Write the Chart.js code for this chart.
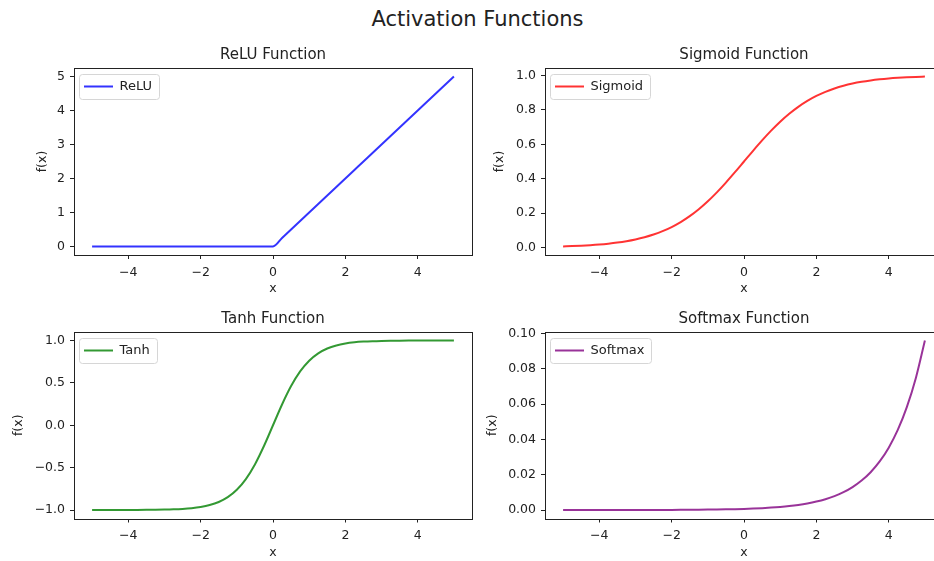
<!DOCTYPE html>
<html>
<head>
<meta charset="utf-8">
<script src="https://cdn.jsdelivr.net/npm/chart.js@4.4.0/dist/chart.umd.min.js"></script>
<style>
  html, body { margin: 0; padding: 0; background: #fff; overflow: hidden; width: 934px; height: 561px; }
  #suptitle { position: absolute; left: 0; top: 0; width: 955px; text-align: center; font: 21px "DejaVu Sans"; line-height: 38px; color: #222; }
  canvas { position: absolute; }
</style>
</head>
<body>
<div id="suptitle">Activation Functions</div>
<canvas id="relu" width="480" height="256" style="left:0;top:40px"></canvas>
<canvas id="sigmoid" width="470" height="256" style="left:480px;top:40px"></canvas>
<canvas id="tanh" width="480" height="256" style="left:0;top:304px"></canvas>
<canvas id="softmax" width="470" height="256" style="left:480px;top:304px"></canvas>
<script>
const xValues = [-5, -4.75, -4.5, -4.25, -4, -3.75, -3.5, -3.25, -3, -2.75, -2.5, -2.25, -2, -1.75, -1.5, -1.25, -1, -0.75, -0.5, -0.25, 0,
  0.25, 0.5, 0.75, 1, 1.25, 1.5, 1.75, 2, 2.25, 2.5, 2.75, 3, 3.25, 3.5, 3.75, 4, 4.25, 4.5, 4.75, 5];
const reluValues = [0, 0, 0, 0, 0, 0, 0, 0, 0, 0, 0, 0, 0, 0, 0, 0, 0, 0, 0, 0, 0,
  0.25, 0.5, 0.75, 1, 1.25, 1.5, 1.75, 2, 2.25, 2.5, 2.75, 3, 3.25, 3.5, 3.75, 4, 4.25, 4.5, 4.75, 5];
const sigmoidValues = [0.0067, 0.0086, 0.011, 0.0141, 0.018, 0.023, 0.0293, 0.0373, 0.0474, 0.0601, 0.0759, 0.0953, 0.1192, 0.148, 0.1824, 0.2227, 0.2689, 0.3208, 0.3775, 0.4378, 0.5,
  0.5622, 0.6225, 0.6792, 0.7311, 0.7773, 0.8176, 0.852, 0.8808, 0.9047, 0.9241, 0.9399, 0.9526, 0.9627, 0.9707, 0.977, 0.982, 0.9859, 0.989, 0.9914, 0.9933];
const tanhValues = [-0.9999, -0.9999, -0.9998, -0.9996, -0.9993, -0.9989, -0.9982, -0.997, -0.9951, -0.9919, -0.9866, -0.978, -0.964, -0.9414, -0.9051, -0.8483, -0.7616, -0.6351, -0.4621, -0.2449, 0,
  0.2449, 0.4621, 0.6351, 0.7616, 0.8483, 0.9051, 0.9414, 0.964, 0.978, 0.9866, 0.9919, 0.9951, 0.997, 0.9982, 0.9989, 0.9993, 0.9996, 0.9998, 0.9999, 0.9999];
const softmaxValues = [0.0000044, 0.0000056, 0.0000072, 0.0000092, 0.0000119, 0.0000152, 0.0000196, 0.0000251, 0.0000322, 0.0000414, 0.0000531,
  0.0000682, 0.0000876, 0.000113, 0.000144, 0.000186, 0.000238, 0.000306, 0.000393, 0.000504, 0.000648,
  0.000831, 0.001068, 0.001371, 0.00176, 0.00226, 0.002902, 0.003727, 0.004785, 0.006144, 0.00789,
  0.01013, 0.01301, 0.0167, 0.02144, 0.02753, 0.03535, 0.04539, 0.05829, 0.07484, 0.0961];

const xTicks = [-4, -2, 0, 2, 4];
const xTickLabels = ['\u22124', '\u22122', '0', '2', '4'];
const reluTicks = [0, 1, 2, 3, 4, 5];
const reluTickLabels = ['0', '1', '2', '3', '4', '5'];
const sigmoidTicks = [0, 0.2, 0.4, 0.6, 0.8, 1.0];
const sigmoidTickLabels = ['0.0', '0.2', '0.4', '0.6', '0.8', '1.0'];
const tanhTicks = [-1, -0.5, 0, 0.5, 1];
const tanhTickLabels = ['\u22121.0', '\u22120.5', '0.0', '0.5', '1.0'];
const softmaxTicks = [0, 0.02, 0.04, 0.06, 0.08, 0.10];
const softmaxTickLabels = ['0.00', '0.02', '0.04', '0.06', '0.08', '0.10'];

const xLimits = [-5.5, 5.5];
const reluLimits = [-0.25, 5.25];
const sigmoidLimits = [-0.043, 1.043];
const tanhLimits = [-1.1, 1.1];
const softmaxLimits = [-0.0048, 0.1009];

Chart.defaults.font.family = '"DejaVu Sans", sans-serif';
Chart.defaults.color = '#222';

// axes box on all four sides, like matplotlib spines
const frame = {
  id: 'frame',
  afterDatasetsDraw(chart) {
    const { ctx, chartArea: a } = chart;
    ctx.save();
    ctx.strokeStyle = '#222';
    ctx.lineWidth = 1;
    ctx.strokeRect(Math.round(a.left) + 0.5, Math.round(a.top) + 0.5,
      Math.round(a.right - a.left), Math.round(a.bottom - a.top));
    ctx.restore();
  }
};

// legend in the chart area: pin it to the top left corner and frame it
const legendFrame = {
  id: 'legendFrame',
  afterLayout(chart) {
    const lg = chart.legend;
    lg.top = chart.chartArea.top + 2;
    lg.bottom = chart.chartArea.bottom;
  },
  beforeDraw(chart) {
    const hb = chart.legend && chart.legend.legendHitBoxes[0];
    if (!hb) return;
    const { ctx } = chart;
    const mid = Math.round(hb.top + hb.height / 2);
    ctx.save();
    ctx.beginPath();
    ctx.roundRect(Math.round(hb.left) - 4.5, mid - 12.5, Math.round(hb.width) + 12, 25, 3);
    ctx.fillStyle = 'rgba(255,255,255,0.8)';
    ctx.fill();
    ctx.strokeStyle = '#d6d6d6';
    ctx.lineWidth = 1;
    ctx.stroke();
    ctx.restore();
  }
};

function makeChart(id, title, label, values, color, yTicks, yTickLabels, yLimits, lay) {
  return new Chart(document.getElementById(id), {
    type: 'line',
    data: {
      datasets: [{
        label: label,
        data: xValues.map((x, i) => ({ x: x, y: values[i] })),
        borderColor: color,
        backgroundColor: color,
        borderWidth: 2,
        pointRadius: 0,
        cubicInterpolationMode: 'monotone'
      }]
    },
    options: {
      responsive: false,
      animation: false,
      events: [],
      layout: { padding: { left: 0, top: 0, right: lay.padRight, bottom: 0 } },
      plugins: {
        title: {
          display: true,
          fullSize: false,
          text: title,
          color: '#222',
          font: { size: 15, weight: 'normal' },
          padding: { top: 6.3, bottom: 3.7 }
        },
        legend: {
          position: 'chartArea',
          align: 'start',
          labels: {
            usePointStyle: true,
            pointStyle: 'line',
            pointStyleWidth: 29,
            color: '#222',
            font: { size: 13 },
            padding: 10
          }
        },
        tooltip: { enabled: false }
      },
      scales: {
        x: {
          type: 'linear',
          min: xLimits[0],
          max: xLimits[1],
          afterBuildTicks: s => { s.ticks = xTicks.map(v => ({ value: v })); },
          afterFit: s => { s.height = lay.xHeight; },
          ticks: { autoSkip: false, maxRotation: 0, padding: 6, font: { size: 12.5 }, callback: (v, i) => xTickLabels[i] },
          grid: { display: true, drawOnChartArea: false, drawTicks: true, tickLength: 4, color: '#222' },
          border: { display: false },
          title: { display: true, text: 'x', font: { size: 12.5 }, padding: 0 }
        },
        y: {
          type: 'linear',
          min: yLimits[0],
          max: yLimits[1],
          afterBuildTicks: s => { s.ticks = yTicks.map(v => ({ value: v })); },
          afterFit: s => { s.width = lay.yWidth; },
          ticks: { autoSkip: false, padding: 5, font: { size: 12.5 }, callback: (v, i) => yTickLabels[i] },
          grid: { display: true, drawOnChartArea: false, drawTicks: true, tickLength: 4, color: '#222' },
          border: { display: false },
          title: { display: true, text: 'f(x)', font: { size: 12.5 }, padding: { top: lay.yTitlePad, bottom: 0 } }
        }
      }
    },
    plugins: [frame, legendFrame]
  });
}

makeChart('relu', 'ReLU Function', 'ReLU', reluValues, 'rgba(0,0,255,0.8)',
  reluTicks, reluTickLabels, reluLimits, { yWidth: 74, padRight: 8, xHeight: 41, yTitlePad: 35.3 });
makeChart('sigmoid', 'Sigmoid Function', 'Sigmoid', sigmoidValues, 'rgba(255,0,0,0.8)',
  sigmoidTicks, sigmoidTickLabels, sigmoidLimits, { yWidth: 65, padRight: 7, xHeight: 41, yTitlePad: 12.5 });
makeChart('tanh', 'Tanh Function', 'Tanh', tanhValues, 'rgba(0,128,0,0.8)',
  tanhTicks, tanhTickLabels, tanhLimits, { yWidth: 74, padRight: 8, xHeight: 41.5, yTitlePad: 11.7 });
makeChart('softmax', 'Softmax Function', 'Softmax', softmaxValues, 'rgba(128,0,128,0.8)',
  softmaxTicks, softmaxTickLabels, softmaxLimits, { yWidth: 65, padRight: 7, xHeight: 41.5, yTitlePad: 5.3 });
</script>
</body>
</html>
